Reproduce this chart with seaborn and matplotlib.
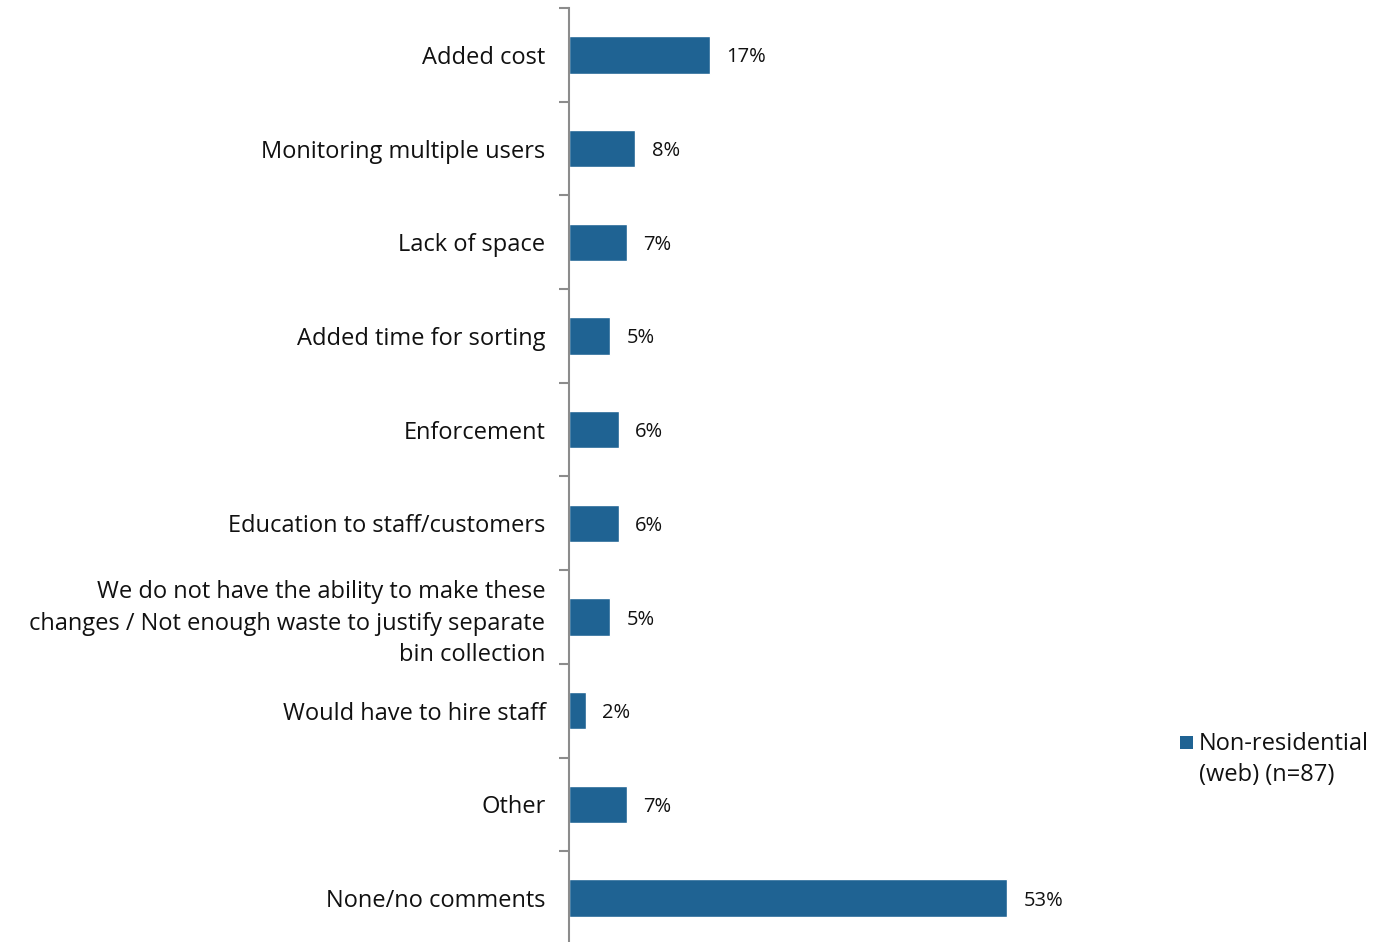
import pandas as pd
import matplotlib.pyplot as plt
import seaborn as sns
from matplotlib.patches import Rectangle

categorias = [
    "Added cost",
    "Monitoring multiple users",
    "Lack of space",
    "Added time for sorting",
    "Enforcement",
    "Education to staff/customers",
    "We do not have the ability to make these\nchanges / Not enough waste to justify separate\nbin collection",
    "Would have to hire staff",
    "Other",
    "None/no comments",
]
valores = [17, 8, 7, 5, 6, 6, 5, 2, 7, 53]
serie = "Non-residential\n(web) (n=87)"
color_barra = "#1F6393"

df = pd.DataFrame({"categoria": categorias, "valor": valores})

sns.set_theme(style="white")
plt.rcParams["font.family"] = ["Open Sans", "DejaVu Sans"]

fig = plt.figure(figsize=(13.75, 9.42), dpi=100)
# eje: x de 569 a 1169 px, y de ~8 a ~945 px
ax = fig.add_axes([569 / 1375, (942 - 945) / 942, 600 / 1375, 937 / 942])

sns.barplot(data=df, x="valor", y="categoria", orient="h", color=color_barra,
            width=0.4, saturation=1, ax=ax)

ax.set_xlim(0, 600 / 8.27)
ax.set_ylim(len(categorias) - 0.5, -0.5)
ax.set_xlabel("")
ax.set_ylabel("")
ax.set_xticks([])

for s in ["top", "right", "bottom"]:
    ax.spines[s].set_visible(False)
ax.spines["left"].set_color("#8c8c8c")
ax.spines["left"].set_linewidth(1.5)

# ticks en los limites de categoria
ax.set_yticks(range(len(categorias)))
ax.set_yticklabels(categorias, fontsize=17, linespacing=1.4)
ax.set_yticks([i - 0.5 for i in range(len(categorias) + 1)], minor=True)
ax.tick_params(axis="y", which="major", length=0, pad=17, colors="#111111")
ax.tick_params(axis="y", which="minor", length=7, width=1.5, color="#8c8c8c", left=True)

for i, v in enumerate(valores):
    ax.text(v + 2, i, f"{v}%", va="center_baseline", ha="left", fontsize=14.5, color="#111111")

# leyenda manual
fig.patches.append(Rectangle((1180 / 1375, 1 - 749 / 942), 13 / 1375, 13 / 942,
                             transform=fig.transFigure, facecolor=color_barra, edgecolor="none"))
fig.text(1199 / 1375, 1 - 732 / 942, serie, ha="left", va="top", fontsize=17,
         linespacing=1.4, color="#111111")

plt.savefig("out.png", dpi=100)
